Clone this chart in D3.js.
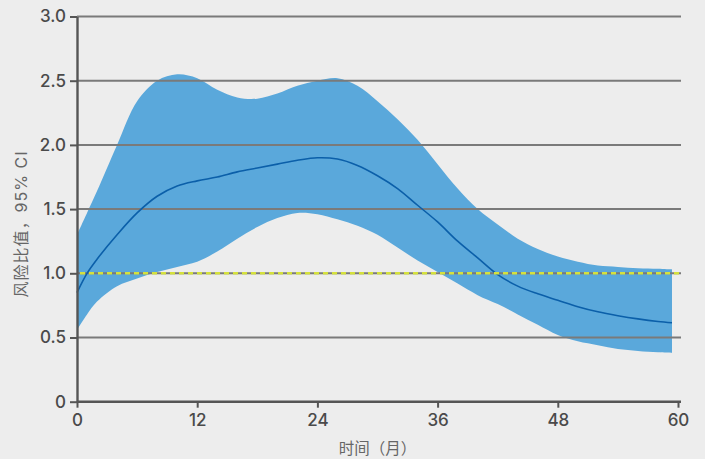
<!DOCTYPE html>
<html>
<head>
<meta charset="utf-8">
<script src="https://cdn.jsdelivr.net/npm/d3@7"></script>
<style>
  html, body { margin: 0; padding: 0; background: #ededed; }
  #chart-area { width: 705px; height: 459px; }
  svg text.tick-label { font-family: Inter, "Noto Sans", sans-serif; font-size: 17px; font-weight: 500; fill: #4a4a4a; }
  svg text.axis-title { font-family: Inter, "Noto Sans CJK SC", sans-serif; font-size: 15.5px; fill: #666; }
  svg text.y-title { font-size: 16px; letter-spacing: 1px; }
</style>
</head>
<body>
<div id="chart-area"></div>
<script>
const months = [0, 1, 2, 4, 6, 8, 10, 12, 14, 16, 18, 20, 22, 24, 26, 28, 30, 32, 34, 36, 38, 40, 42, 44, 46, 48, 50, 52, 54, 56, 58, 59.4];
const hrMean = [0.85, 1.0, 1.11, 1.30, 1.47, 1.60, 1.68, 1.72, 1.75, 1.79, 1.82, 1.85, 1.88, 1.90, 1.89, 1.84, 1.76, 1.66, 1.53, 1.40, 1.25, 1.12, 0.99, 0.90, 0.84, 0.79, 0.74, 0.70, 0.67, 0.645, 0.625, 0.615];
const ciUpper = [1.30, 1.47, 1.64, 2.0, 2.34, 2.5, 2.55, 2.52, 2.43, 2.37, 2.36, 2.40, 2.46, 2.50, 2.52, 2.46, 2.34, 2.20, 2.04, 1.85, 1.66, 1.50, 1.38, 1.27, 1.19, 1.13, 1.09, 1.06, 1.05, 1.04, 1.035, 1.03];
const ciLower = [0.56, 0.68, 0.78, 0.90, 0.96, 1.01, 1.05, 1.09, 1.17, 1.27, 1.36, 1.43, 1.47, 1.46, 1.42, 1.37, 1.30, 1.20, 1.10, 1.01, 0.92, 0.83, 0.76, 0.68, 0.60, 0.52, 0.47, 0.44, 0.41, 0.395, 0.385, 0.38];

const xTicks = [0, 12, 24, 36, 48, 60];
const yTicks = [0, 0.5, 1.0, 1.5, 2.0, 2.5, 3.0];
const yTickLabels = ['0', '0.5', '1.0', '1.5', '2.0', '2.5', '3.0'];
const refValue = 1.0;

const xTitle = '时间（月）';
const yTitle = '风险比值，95% CI';

const W = 705, H = 459;
const MARGIN = {top: 16.5, right: 27, bottom: 57.3, left: 77};

const svg = d3.select('#chart-area').append('svg')
    .attr('width', W)
    .attr('height', H);

svg.append('rect')
    .attr('width', W)
    .attr('height', H)
    .attr('fill', '#ededed');

const xScale = d3.scaleLinear()
    .domain([0, 60])
    .range([MARGIN.left, W - MARGIN.right]);

const yScale = d3.scaleLinear()
    .domain([0, 3])
    .range([H - MARGIN.bottom, MARGIN.top]);

const rows = months.map((m, i) => ({m, mean: hrMean[i], lo: ciLower[i], hi: ciUpper[i]}));
const smooth = d3.curveCatmullRom.alpha(0.5);

// confidence band
const band = d3.area()
    .x(d => xScale(d.m))
    .y0(d => yScale(d.lo))
    .y1(d => yScale(d.hi))
    .curve(smooth);

svg.append('path')
    .datum(rows)
    .attr('d', band)
    .attr('fill', '#5aa8db');

// grid lines
const gridRight = xScale(60) + 3;
svg.append('g')
    .selectAll('line')
    .data(yTicks.filter(v => v > 0))
    .join('line')
    .attr('x1', xScale(0))
    .attr('x2', gridRight)
    .attr('y1', d => yScale(d))
    .attr('y2', d => yScale(d))
    .attr('stroke', '#7a7a7a')
    .attr('stroke-width', 2);

// mean hazard ratio
const meanLine = d3.line()
    .x(d => xScale(d.m))
    .y(d => yScale(d.mean))
    .curve(smooth);

svg.append('path')
    .datum(rows)
    .attr('d', meanLine)
    .attr('fill', 'none')
    .attr('stroke', '#0b5fa9')
    .attr('stroke-width', 1.6);

// reference line at 1.0
svg.append('line')
    .attr('x1', xScale(0) + 3)
    .attr('x2', gridRight)
    .attr('y1', yScale(refValue))
    .attr('y2', yScale(refValue))
    .attr('stroke', '#d5e13c')
    .attr('stroke-width', 2.6)
    .attr('stroke-dasharray', '5,4');

// axes
const xAxisCall = d3.axisBottom(xScale)
    .tickValues(xTicks)
    .tickSize(6)
    .tickSizeOuter(0)
    .tickFormat(d => d);

const xAxisGroup = svg.append('g')
    .attr('transform', `translate(0, ${yScale(0)})`)
    .call(xAxisCall);
xAxisGroup.select('.domain')
    .attr('d', `M${xScale(0)},0H${gridRight}`)
    .attr('stroke', '#555')
    .attr('stroke-width', 2.4);
xAxisGroup.selectAll('.tick line').attr('stroke', '#555').attr('stroke-width', 2);
xAxisGroup.selectAll('.tick text')
    .attr('class', 'tick-label')
    .attr('y', 12);

const yAxisCall = d3.axisLeft(yScale)
    .tickValues(yTicks)
    .tickSize(7)
    .tickSizeOuter(0)
    .tickFormat((d, i) => yTickLabels[i]);

const yAxisGroup = svg.append('g')
    .attr('transform', `translate(${xScale(0)}, 0)`)
    .call(yAxisCall);
yAxisGroup.select('.domain')
    .attr('stroke', '#555')
    .attr('stroke-width', 2.4);
yAxisGroup.selectAll('.tick line').attr('stroke', '#555').attr('stroke-width', 2);
yAxisGroup.selectAll('.tick text')
    .attr('class', 'tick-label')
    .attr('x', -11);

// axis titles
svg.append('text')
    .attr('class', 'axis-title')
    .attr('x', (xScale(0) + xScale(60)) / 2)
    .attr('y', 454)
    .attr('text-anchor', 'middle')
    .text(xTitle);

svg.append('text')
    .attr('class', 'axis-title y-title')
    .attr('transform', 'rotate(-90)')
    .attr('x', -224)
    .attr('y', 27)
    .attr('text-anchor', 'middle')
    .text(yTitle);
</script>
</body>
</html>
